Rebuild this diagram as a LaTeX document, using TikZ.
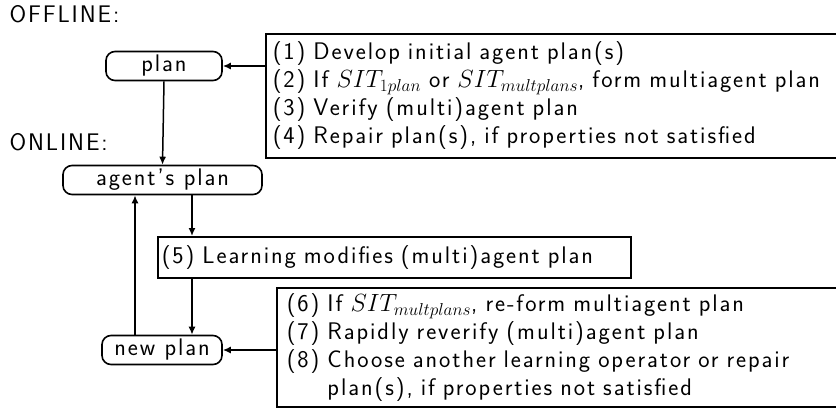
\documentclass[tikz,border=0pt]{standalone}
\usepackage{fontspec}
\setsansfont{Latin Modern Sans}[LetterSpace=8]
\usetikzlibrary{arrows.meta}

\begin{document}
\begin{tikzpicture}[x=1pt, y=-1pt,
  every node/.style={font=\sffamily\fontsize{24}{28}\selectfont},
  planbox/.style={draw, line width=1.6pt, rounded corners=9pt, inner sep=0pt, minimum height=29pt},
  listbox/.style={draw, line width=1.6pt, anchor=north west, align=left, inner ysep=0pt},
  flow/.style={-{Latex[length=8pt,width=7pt]}, line width=1.5pt}]
\useasboundingbox (0,0) rectangle (836,408);
\clip (0,0) rectangle (836,408);

% Phase labels
\node[anchor=west] (offline) at (6,14) {OFFLINE:};
\node[anchor=west] (online) at (6,142) {ONLINE:};

% Plans
\node[planbox, minimum width=116pt] (plan) at (164,66) {plan};
\node[planbox, minimum width=199pt] (agent) at (162.5,180) {agent's plan};
\node[planbox, minimum width=120pt] (newplan) at (162,350) {new plan};

% Offline steps
\node[listbox, minimum height=124pt, text width=580pt, inner xsep=7pt] (offsteps) at (265,33)
  {(1) Develop initial agent plan(s)\\
   (2) If $SIT_{1plan}$ or $SIT_{multplans}$, form multiagent plan\\
   (3) Verify (multi)agent plan\\
   (4) Repair plan(s), if properties not satisfied};

% Learning step
\node[listbox, minimum height=41pt, text width=465pt, inner xsep=4pt] (learn) at (157,236)
  {(5) Learning modifies (multi)agent plan};

% Online steps
\node[listbox, minimum height=119pt, text width=560pt, inner xsep=10pt] (onsteps) at (276,287)
  {(6) If $SIT_{multplans}$, re-form multiagent plan\\
   (7) Rapidly reverify (multi)agent plan\\
   (8) Choose another learning operator or repair\\
   \hphantom{(8)\ }plan(s), if properties not satisfied};

% Connectors
\coordinate (down) at ([xshift=35pt]learn.north west);
\coordinate (up) at ([xshift=-27pt]newplan.north);
\draw[flow] (offsteps.west |- plan.east) -- (plan.east);
\draw[flow] (plan.south) -- (agent.north);
\draw[flow] (down |- agent.south) -- (down);
\draw[flow] (down |- learn.south) -- (down |- newplan.north);
\draw[flow] (up) -- (up |- agent.south);
\draw[flow] (onsteps.west |- newplan.east) -- (newplan.east);
\end{tikzpicture}
\end{document}
